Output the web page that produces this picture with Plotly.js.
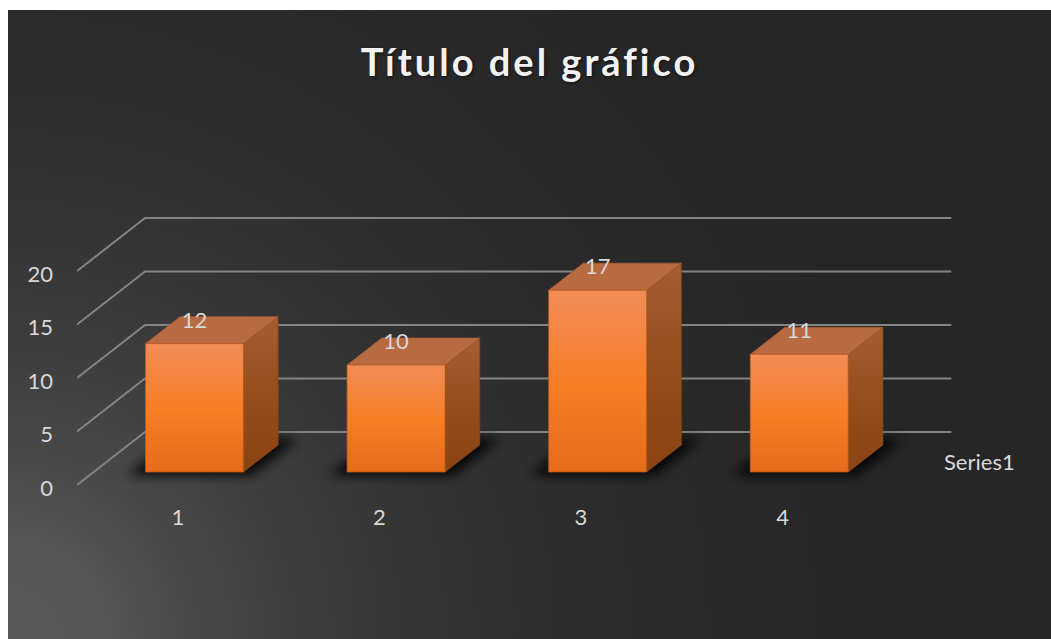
<!DOCTYPE html>
<html>
<head>
<meta charset="utf-8">
<script src="https://cdn.plot.ly/plotly-3.0.1.min.js"></script>
<style>
  html, body { margin: 0; padding: 0; background: #ffffff; }
  #chart {
    position: absolute; left: 8px; top: 10px; width: 1043px; height: 629px;
    background: radial-gradient(circle at 0% 100%,
      #5a5a5a 0px, #575757 90px, #494949 180px, #3c3c3c 310px,
      #323232 450px, #2a2a2a 640px, #262626 900px);
  }
  #chart .gtitle { letter-spacing: 3px; }
</style>
</head>
<body>
<div id="chart"></div>
<script>
// ---- data ----
const chartTitle = 'Título del gráfico';
const seriesName = 'Series1';
const categories = ['1', '2', '3', '4'];
const values = [12, 10, 17, 11];
const yTicks = [0, 5, 10, 15, 20];

// ---- oblique 3-D projection (depth axis drawn up and to the right) ----
const DEPTH_DX = 0.3375;   // full depth, in category units
const DEPTH_DY = 4.95;     // full depth, in value units
const BAR_W = 0.486;       // bar width, in category units
const D_FRONT = 0.245;     // bar front face depth (0 = front, 1 = back wall)
const D_BACK = 0.755;      // bar back face depth
const LABEL_LIFT = 2.0;    // data label height above the bar's front top edge

const TEXT_COLOR = '#d9d9d9';
const GRID_COLOR = '#848484';
const FONT = 'Lato, "Open Sans", sans-serif';

const n = categories.length;
const xLeft = 0.5, xRight = n + 0.5;

// project a (x, value, depth) point to the 2-D axes
function proj(x, v, d) { return [x + d * DEPTH_DX, v + d * DEPTH_DY]; }

const traces = [];

// walls: horizontal lines on the back wall, diagonals on the side wall
(function () {
  const gx = [], gy = [];
  yTicks.forEach(v => {
    const a = proj(xLeft, v, 0), b = proj(xLeft, v, 1), c = proj(xRight, v, 1);
    gx.push(a[0], b[0], c[0], null);
    gy.push(a[1], b[1], c[1], null);
  });
  traces.push({
    type: 'scatter', mode: 'lines', x: gx, y: gy,
    line: { color: GRID_COLOR, width: 2 }, hoverinfo: 'skip'
  });
})();

// polygon helper
function poly(pts, style) {
  const xs = pts.map(p => p[0]), ys = pts.map(p => p[1]);
  xs.push(xs[0]); ys.push(ys[0]);
  return Object.assign({
    type: 'scatter', mode: 'lines', x: xs, y: ys, fill: 'toself', hoverinfo: 'skip'
  }, style);
}

// floor shadows (blurred after rendering)
const shadowIdx = [];
values.forEach((v, i) => {
  const xc = i + 1;
  const l = xc - BAR_W / 2 - 0.07, r = xc + BAR_W / 2 + 0.06;
  const d0 = D_FRONT - 0.06, d1 = D_BACK + 0.12;
  shadowIdx.push(traces.length);
  traces.push(poly([proj(l, 0, d0), proj(r, 0, d0), proj(r, 0, d1), proj(l, 0, d1)], {
    line: { width: 0, color: 'rgba(0,0,0,0)' }, fillcolor: 'rgba(0,0,0,0.9)'
  }));
});

// bars: front, side and top faces
values.forEach((v, i) => {
  const xc = i + 1;
  const l = xc - BAR_W / 2, r = xc + BAR_W / 2;
  // side face
  traces.push(poly([proj(r, 0, D_FRONT), proj(r, 0, D_BACK), proj(r, v, D_BACK), proj(r, v, D_FRONT)], {
    line: { color: 'rgba(140,68,20,0.9)', width: 0.8 },
    fillgradient: { type: 'vertical', colorscale: [[0, '#8a4312'], [0.5, '#974d1c'], [1, '#a55d34']] }
  }));
  // top face
  traces.push(poly([proj(l, v, D_FRONT), proj(r, v, D_FRONT), proj(r, v, D_BACK), proj(l, v, D_BACK)], {
    line: { color: 'rgba(170,90,50,0.9)', width: 0.8 }, fillcolor: '#b86a41'
  }));
  // front face
  traces.push(poly([proj(l, 0, D_FRONT), proj(r, 0, D_FRONT), proj(r, v, D_FRONT), proj(l, v, D_FRONT)], {
    line: { color: 'rgba(190,90,25,0.9)', width: 0.8 },
    fillgradient: { type: 'vertical', colorscale: [[0, '#e46c1b'], [0.5, '#f67f27'], [1, '#f28c57']] }
  }));
});

// data labels
traces.push({
  type: 'scatter', mode: 'text',
  x: values.map((v, i) => proj(i + 1, v, D_FRONT)[0]),
  y: values.map((v, i) => proj(i + 1, v, D_FRONT)[1] + LABEL_LIFT),
  text: values.map(String), textposition: 'middle center',
  textfont: { family: FONT, size: 22, color: TEXT_COLOR }, hoverinfo: 'skip'
});

const layout = {
  width: 1043, height: 629,
  paper_bgcolor: 'rgba(0,0,0,0)', plot_bgcolor: 'rgba(0,0,0,0)',
  margin: { l: 69, r: 87, t: 190, b: 137, pad: 0 },
  showlegend: false, hovermode: false,
  title: {
    text: chartTitle, x: 0.5, xanchor: 'center', y: 0.917, yanchor: 'middle', yref: 'container',
    font: { family: FONT, size: 38, weight: 'bold', color: '#f2f2f2', shadow: '1px 1px 3px rgba(0,0,0,0.6)' }
  },
  xaxis: {
    range: [xLeft, 4.9], tickvals: categories.map((c, i) => i + 1), ticktext: categories,
    showgrid: false, zeroline: false, showline: false, ticks: '', fixedrange: true,
    tickfont: { family: FONT, size: 22, color: TEXT_COLOR }
  },
  yaxis: {
    range: [-1.59, 26.64], tickvals: yTicks, ticktext: yTicks.map(String),
    showgrid: false, zeroline: false, showline: false, ticks: '', fixedrange: true,
    ticklabelstandoff: 23, ticklabelshift: 3,
    tickfont: { family: FONT, size: 22, color: TEXT_COLOR }
  },
  annotations: [{
    text: seriesName, x: 4.79, y: 2.15, xref: 'x', yref: 'y', xanchor: 'left', yanchor: 'middle',
    showarrow: false, font: { family: FONT, size: 22, color: TEXT_COLOR }
  }]
};

const gd = document.getElementById('chart');
Plotly.newPlot(gd, traces, layout, { displayModeBar: false, staticPlot: true }).then(() => {
  // soften the floor shadows with a gaussian blur
  const svgNS = 'http://www.w3.org/2000/svg';
  const defs = gd.querySelector('svg.main-svg defs');
  const filter = document.createElementNS(svgNS, 'filter');
  filter.setAttribute('id', 'bar-shadow-blur');
  filter.setAttribute('x', '-50%'); filter.setAttribute('y', '-50%');
  filter.setAttribute('width', '200%'); filter.setAttribute('height', '200%');
  const blur = document.createElementNS(svgNS, 'feGaussianBlur');
  blur.setAttribute('stdDeviation', '6');
  filter.appendChild(blur);
  defs.appendChild(filter);
  const traceGroups = gd.querySelectorAll('.scatterlayer .trace');
  shadowIdx.forEach(k => {
    const g = traceGroups[k];
    if (g) g.querySelectorAll('path.js-fill').forEach(p => p.setAttribute('filter', 'url(#bar-shadow-blur)'));
  });
});
</script>
</body>
</html>
